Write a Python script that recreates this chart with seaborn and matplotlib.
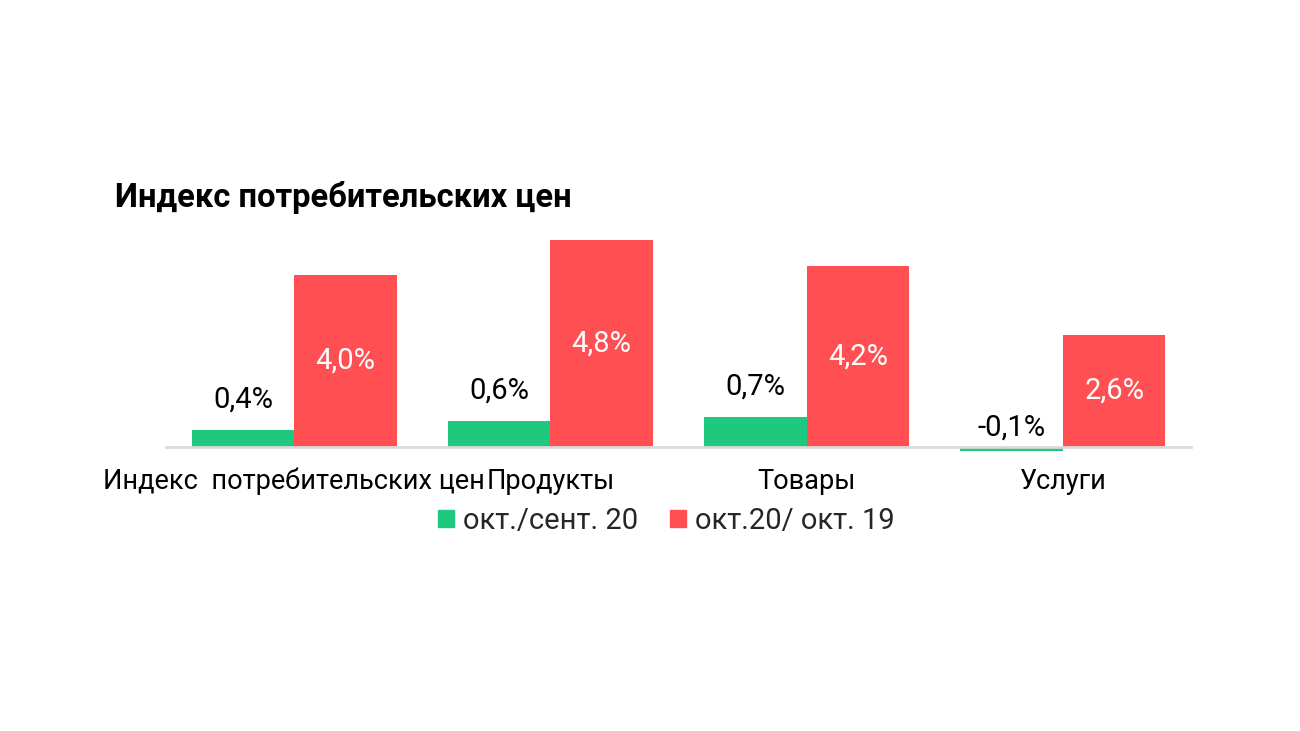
import pandas as pd
import matplotlib.pyplot as plt
import seaborn as sns

# --- Data ---
categories = ["Индекс  потребительских цен", "Продукты", "Товары", "Услуги"]
series_names = ["окт./сент. 20", "окт.20/ окт. 19"]
mom_values = [0.4, 0.6, 0.7, -0.1]   # окт./сент. 20
yoy_values = [4.0, 4.8, 4.2, 2.6]    # окт.20/ окт. 19
colors = ["#1EC87E", "#FF4F52"]

df = pd.DataFrame({
    "category": categories * 2,
    "series": [series_names[0]] * 4 + [series_names[1]] * 4,
    "value": mom_values + yoy_values,
})

sns.set_theme(style="white")
plt.rcParams['font.family'] = ['Roboto', 'DejaVu Sans']

fig = plt.figure(figsize=(13, 7.31), dpi=100)
ax = fig.add_axes([0.1277, 0.3707, 0.7885, 0.3126])

sns.barplot(data=df, x="category", y="value", hue="series",
            palette=colors, width=0.8, saturation=1, linewidth=0, ax=ax)

ax.set_xlim(-0.5, 3.5)
ax.set_ylim(-0.3, 5.0)

# --- Value labels ---
green_bars, red_bars = ax.containers[0], ax.containers[1]
for bar, v in zip(green_bars, mom_values):
    x = bar.get_x() + bar.get_width() / 2
    off = 22 if v >= 0 else 14
    ax.annotate(f"{v:.1f}%".replace(".", ","), (x, max(v, 0)),
                xytext=(0, off), textcoords="offset points",
                ha="center", va="center", fontsize=21, color="black")
for bar, v in zip(red_bars, yoy_values):
    x = bar.get_x() + bar.get_width() / 2
    ax.text(x, v / 2, f"{v:.1f}%".replace(".", ","),
            ha="center", va="center", fontsize=21, color="white")

# --- Axes styling ---
for s in ["top", "right", "left"]:
    ax.spines[s].set_visible(False)
ax.spines["bottom"].set_position(("data", 0))
ax.spines["bottom"].set_color("#D9D9D9")
ax.spines["bottom"].set_linewidth(2)
ax.set_yticks([])
ax.set_xlabel("")
ax.set_ylabel("")
ax.tick_params(axis="x", length=0, pad=15, labelsize=19.5, labelcolor="black")

# --- Legend ---
ax.legend_.remove()
handles = [plt.Rectangle((0, 0), 1, 1, color=c) for c in colors]
fig.legend(handles, series_names, loc="center", bbox_to_anchor=(666 / 1300, 1 - 521 / 731),
           ncol=2, frameon=False, fontsize=21, handlelength=0.55, handleheight=0.55,
           handletextpad=0.3, columnspacing=1.1, borderaxespad=0)

# --- Title ---
fig.text(115 / 1300, 1 - 198 / 731, "Индекс потребительских цен",
         fontsize=23.6, fontweight="bold", ha="left", va="center", color="black")

fig.savefig("out.png", dpi=100)
